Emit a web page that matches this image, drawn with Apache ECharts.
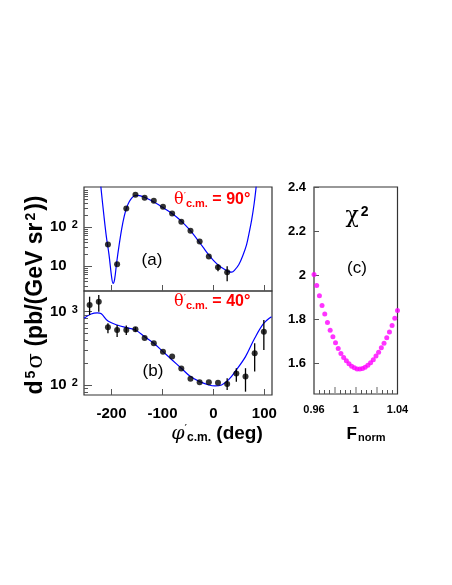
<!DOCTYPE html>
<html><head><meta charset="utf-8">
<script src="https://cdn.jsdelivr.net/npm/echarts@6/dist/echarts.min.js"></script>
<style>html,body{margin:0;padding:0;background:#fff}#c{width:452px;height:585px}</style>
</head><body><div id="c"></div>
<script>
// ---------- Panel (a): theta' = 90 deg ----------
const phiA = [-207,-189,-171,-153,-135,-117,-99,-81,-63,-45,-27,-9,9,27];
const valA = [35.6,11.1,298,670,561,470,330,222,136,80,42.5,17.5,9.3,6.9];
const errPhiA = [9,27];
const errLoA = [7.4,4.1];
const errHiA = [10.9,9.9];
const curvePhiA = [-221,-215,-210,-205,-200,-197,-194,-190,-185,-180,-175,-170,-165,-160,-155,-150,-145,-140,-130,-120,-110,-100,-90,-80,-70,-60,-50,-40,-30,-20,-10,0,10,20,30,36,42,50,58,65,70,75,80,84];
const curveValA = [1100,200,55,20,5.5,3.6,4.5,12,35,90,190,320,450,560,630,650,640,610,540,460,390,320,265,215,170,130,95,67,45,30,20,14,10.5,8.5,7.2,7.0,8,11,19,35,70,150,400,1100];

// ---------- Panel (b): theta' = 40 deg ----------
const phiB = [-243,-225,-207,-189,-171,-153,-135,-117,-99,-81,-63,-45,-27,-9,9,27,45,63,81,99];
const valB = [1225,1360,610,560,560,573,436,369,284,243,167,121,109,109,107,103,143,130,270,531];
const errPhiB = [-243,-225,-207,-189,-171,-153,27,45,63,81,99];
const errLoB = [896,994,505,450,479,530,85.5,111,81,152,299];
const errHiB = [1589,1675,691,655,646,615,123,169,169,369,766];
const curvePhiB = [-254,-240,-228,-220,-207,-189,-171,-153,-135,-117,-99,-81,-63,-45,-27,-9,3,16,29.5,45,63,81,99,114];
const curveValB = [807,925,960,930,740,655,602,560,454,369,284,219,169,130,111,100,97,100,117,160,243,432,692,850];

// ---------- Panel (c): chi2 vs F_norm ----------
const fNorm = [0.9600,0.9626,0.9652,0.9677,0.9703,0.9729,0.9755,0.9781,0.9806,0.9832,0.9858,0.9884,0.9910,0.9935,0.9961,0.9987,1.0013,1.0039,1.0065,1.0090,1.0116,1.0142,1.0168,1.0194,1.0219,1.0245,1.0271,1.0297,1.0323,1.0348,1.0374,1.0400];
const chi2 = [2.003,1.953,1.906,1.862,1.823,1.785,1.750,1.720,1.693,1.667,1.644,1.626,1.611,1.597,1.586,1.579,1.574,1.573,1.576,1.582,1.591,1.602,1.616,1.632,1.650,1.670,1.691,1.715,1.742,1.771,1.804,1.839];

// ---------- Tick values ----------
const phiTicks = [-200,-100,0,100];
const logMajorA = [10,100];
const logMinorA = [3,4,5,6,7,8,9,20,30,40,50,60,70,80,90,200,300,400,500,600,700,800,900];
const logMajorB = [100,1000];
const logMinorB = [80,90,200,300,400,500,600,700,800,900];
const fMajorTicks = [0.98,1,1.02];
const fLabels = [0.96,1,1.04];
const fMinorTicks = [0.965,0.97,0.975,0.985,0.99,0.995,1.005,1.01,1.015,1.025,1.03,1.035];
const chiTicks = [1.6,1.8,2,2.2,2.4];

const F = 'Liberation Sans, Arial, Helvetica, sans-serif';
const SYM = 'DejaVu Serif, Liberation Serif, serif';
const chart = echarts.init(document.getElementById('c'));

const supRich = {
  b:{fontFamily:F,fontSize:15,fontWeight:'bold',color:'#000'},
  s:{fontFamily:F,fontSize:11,fontWeight:'bold',color:'#000',verticalAlign:'top',padding:[0,0,0,5]}
};
function logFmt(v){const e=Math.round(Math.log10(v));return e===1?'{b|10}':'{b|10}{s|'+e+'}';}

function errSeries(xi, yi, phis, lo, hi){
  return {type:'custom',xAxisIndex:xi,yAxisIndex:yi,silent:true,clip:true,z:3,
    data:phis.map((p,i)=>[p,lo[i],hi[i]]),encode:{x:0,y:[1,2]},
    renderItem:(params,api)=>{
      const a=api.coord([api.value(0),api.value(1)]);
      const b=api.coord([api.value(0),api.value(2)]);
      return {type:'line',shape:{x1:a[0],y1:a[1],x2:b[0],y2:b[1]},style:{stroke:'#000',lineWidth:1.3}};
    }};
}
const gridBase = {show:true,borderColor:'#333',borderWidth:1.2,backgroundColor:'transparent',outerBoundsMode:'none',containLabel:false};
const tickStyle = {color:'#555',width:1};

function phiAxis(gi, showLabels){
  return {type:'value',gridIndex:gi,min:-254,max:115,position:'bottom',
    axisLine:{show:false,onZero:false},splitLine:{show:false},
    axisTick:{show:true,inside:true,length:6,customValues:phiTicks,lineStyle:tickStyle},
    axisLabel:{show:showLabels,customValues:phiTicks,margin:11,fontFamily:F,fontSize:15,fontWeight:'bold',color:'#000'}};
}
function logAxis(gi,min,max,major,showMajor){
  return {type:'log',logBase:10,gridIndex:gi,min:min,max:max,position:'left',
    axisLine:{show:false,onZero:false},splitLine:{show:false},
    axisTick:{show:true,inside:true,length:showMajor?8:4,customValues:major,lineStyle:tickStyle},
    axisLabel:showMajor?{show:true,customValues:major,formatter:logFmt,rich:supRich,align:'left',margin:34}:{show:false}};
}

const option = {
  animation:false,
  backgroundColor:'#fff',
  grid:[
    Object.assign({left:84,top:187,width:188,height:104},gridBase),
    Object.assign({left:84,top:291,width:188,height:104},gridBase),
    Object.assign({left:314,top:187,width:83.5,height:207},gridBase)
  ],
  xAxis:[
    phiAxis(0,false),
    phiAxis(1,true),
    {type:'value',gridIndex:2,min:0.96,max:1.04,position:'bottom',
      axisLine:{show:false,onZero:false},splitLine:{show:false},
      axisTick:{show:true,inside:true,length:7,customValues:fMajorTicks,lineStyle:{color:'#999',width:1.5}},
      axisLabel:{show:true,customValues:fLabels,margin:10,fontFamily:F,fontSize:11,fontWeight:'bold',color:'#000',
        formatter:v=>(Math.abs(v-1)<1e-9?'1':String(+v.toFixed(2)))}},
    {type:'value',gridIndex:2,min:0.96,max:1.04,position:'bottom',
      axisLine:{show:false,onZero:false},splitLine:{show:false},
      axisTick:{show:true,inside:true,length:4,customValues:fMinorTicks,lineStyle:tickStyle},
      axisLabel:{show:false}}
  ],
  yAxis:[
    logAxis(0,2.3,1060,logMajorA,true),
    logAxis(0,2.3,1060,logMinorA,false),
    logAxis(1,73,1900,logMajorB,true),
    logAxis(1,73,1900,logMinorB,false),
    {type:'value',gridIndex:2,min:1.46,max:2.4,position:'left',
      axisLine:{show:false,onZero:false},splitLine:{show:false},
      axisTick:{show:true,inside:true,length:5,customValues:chiTicks,lineStyle:tickStyle},
      axisLabel:{show:true,customValues:chiTicks,margin:8,fontFamily:F,fontSize:13,fontWeight:'bold',color:'#000',
        formatter:v=>String(+v.toFixed(1))}}
  ],
  series:[
    {type:'line',xAxisIndex:0,yAxisIndex:0,data:curvePhiA.map((p,i)=>[p,curveValA[i]]),showSymbol:false,smooth:0.35,clip:true,silent:true,
      lineStyle:{color:'#0000ff',width:1.2},z:2},
    errSeries(0,0,errPhiA,errLoA,errHiA),
    {type:'scatter',xAxisIndex:0,yAxisIndex:0,data:phiA.map((p,i)=>[p,valA[i]]),symbol:'circle',symbolSize:6,itemStyle:{color:'#000'},silent:true,z:4},
    {type:'line',xAxisIndex:1,yAxisIndex:2,data:curvePhiB.map((p,i)=>[p,curveValB[i]]),showSymbol:false,smooth:0.35,clip:true,silent:true,
      lineStyle:{color:'#0000ff',width:1.2},z:2},
    errSeries(1,2,errPhiB,errLoB,errHiB),
    {type:'scatter',xAxisIndex:1,yAxisIndex:2,data:phiB.map((p,i)=>[p,valB[i]]),symbol:'circle',symbolSize:6,itemStyle:{color:'#000'},silent:true,z:4},
    {type:'scatter',xAxisIndex:2,yAxisIndex:4,data:fNorm.map((f,i)=>[f,chi2[i]]),symbol:'circle',symbolSize:5,itemStyle:{color:'#ff00ff'},silent:true,clip:true}
  ],
  graphic:[
    {type:'text',x:36,y:295,rotation:Math.PI/2,silent:true,style:{
      text:'{b|d}{s|5}{g|σ}{b| (pb/(GeV sr}{s|2}{b|))}',align:'center',verticalAlign:'middle',
      rich:{b:{fontFamily:F,fontSize:23,fontWeight:'bold',fill:'#000'},
            s:{fontFamily:F,fontSize:14,fontWeight:'bold',fill:'#000',verticalAlign:'top',padding:[0,2,0,2]},
            g:{fontFamily:SYM,fontSize:23,fill:'#000'}}}},
    {type:'text',x:217,y:434,silent:true,style:{
      text:'{p|φ}{q|′}{c|c.m.}{b| (deg)}',align:'center',verticalAlign:'middle',
      rich:{p:{fontFamily:SYM,fontSize:19,fontStyle:'italic',fill:'#000'},
            q:{fontFamily:SYM,fontSize:11,fill:'#000',verticalAlign:'top'},
            c:{fontFamily:F,fontSize:12,fontWeight:'bold',fill:'#000',verticalAlign:'bottom',padding:[8,0,0,0]},
            b:{fontFamily:F,fontSize:19,fontWeight:'bold',fill:'#000'}}}},
    {type:'text',x:366,y:434,silent:true,style:{
      text:'{b|F}{c|norm}',align:'center',verticalAlign:'middle',
      rich:{b:{fontFamily:F,fontSize:17,fontWeight:'bold',fill:'#000'},
            c:{fontFamily:F,fontSize:11,fontWeight:'bold',fill:'#000',verticalAlign:'bottom',padding:[8,0,0,1]}}}},
    {type:'text',x:174,y:200,silent:true,style:{
      text:'{t|θ}{q|′}{c|c.m.}{b| = 90°}',align:'left',verticalAlign:'middle',
      rich:{t:{fontFamily:SYM,fontSize:16,fill:'#ff0000'},
            q:{fontFamily:SYM,fontSize:10,fill:'#ff0000',verticalAlign:'top'},
            c:{fontFamily:F,fontSize:11,fontWeight:'bold',fill:'#ff0000',verticalAlign:'bottom',padding:[7,0,0,0]},
            b:{fontFamily:F,fontSize:16,fontWeight:'bold',fill:'#ff0000'}}}},
    {type:'text',x:174,y:302,silent:true,style:{
      text:'{t|θ}{q|′}{c|c.m.}{b| = 40°}',align:'left',verticalAlign:'middle',
      rich:{t:{fontFamily:SYM,fontSize:16,fill:'#ff0000'},
            q:{fontFamily:SYM,fontSize:10,fill:'#ff0000',verticalAlign:'top'},
            c:{fontFamily:F,fontSize:11,fontWeight:'bold',fill:'#ff0000',verticalAlign:'bottom',padding:[7,0,0,0]},
            b:{fontFamily:F,fontSize:16,fontWeight:'bold',fill:'#ff0000'}}}},
    {type:'text',x:152,y:260,silent:true,style:{text:'(a)',align:'center',verticalAlign:'middle',font:'17px '+F,fill:'#000'}},
    {type:'text',x:153,y:371,silent:true,style:{text:'(b)',align:'center',verticalAlign:'middle',font:'17px '+F,fill:'#000'}},
    {type:'text',x:357,y:268,silent:true,style:{text:'(c)',align:'center',verticalAlign:'middle',font:'17px '+F,fill:'#000'}},
    {type:'text',x:357,y:216,silent:true,style:{
      text:'{g|χ}{s|2}',align:'center',verticalAlign:'middle',
      rich:{g:{fontFamily:SYM,fontSize:22,fill:'#000'},
            s:{fontFamily:F,fontSize:14,fontWeight:'bold',fill:'#000',verticalAlign:'top',padding:[0,0,0,2]}}}}
  ]
};
chart.setOption(option);
</script>
</body></html>
